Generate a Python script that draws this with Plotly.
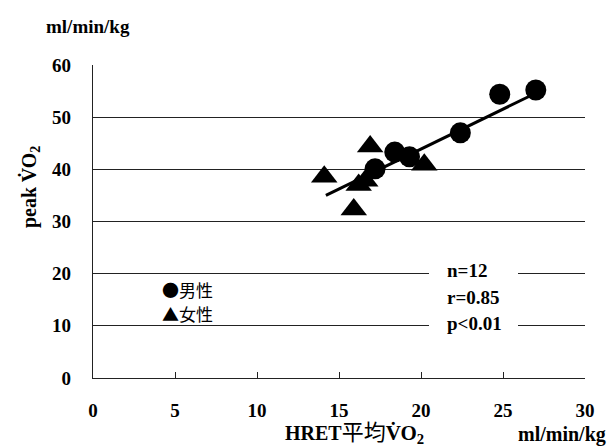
import plotly.graph_objects as go

# Data
male_x = [27.0, 24.8, 22.4, 18.4, 19.3, 17.2]
male_y = [55.2, 54.4, 47.0, 43.3, 42.4, 40.1]
female_x = [16.9, 14.1, 20.2, 16.2, 16.6, 15.9]
female_y = [44.4, 38.6, 40.9, 37.0, 37.8, 32.3]
fit_x = [14.2, 26.8]
fit_y = [35.0, 54.3]
x_ticks = [0, 5, 10, 15, 20, 25, 30]
y_ticks = [0, 10, 20, 30, 40, 50, 60]
stats_text = ["n=12", "r=0.85", "p<0.01"]
legend_labels = ["●男性", "▲女性"]

SERIF = "Liberation Serif, Times New Roman, Noto Sans CJK JP"
CJK = "Noto Sans CJK JP, Liberation Serif"

fig = go.Figure()
fig.add_trace(go.Scatter(x=fit_x, y=fit_y, mode="lines",
                         line=dict(color="black", width=3), showlegend=False,
                         hoverinfo="skip"))
fig.add_trace(go.Scatter(x=female_x, y=female_y, mode="markers",
                         marker=dict(symbol="triangle-up", size=23, color="black",
                                     line=dict(width=0)), showlegend=False))
fig.add_trace(go.Scatter(x=male_x, y=male_y, mode="markers",
                         marker=dict(symbol="circle", size=21, color="black",
                                     line=dict(width=0)), showlegend=False))

fig.update_layout(
    width=610, height=446,
    margin=dict(l=93, r=25, t=65, b=68),
    paper_bgcolor="white", plot_bgcolor="white",
    showlegend=False,
    xaxis=dict(range=[0, 30], tickvals=x_ticks, ticks="inside", ticklen=6,
               tickcolor="#222", showline=True, linecolor="#222", linewidth=1.2,
               showgrid=False, zeroline=False, ticklabelstandoff=15,
               tickfont=dict(family=SERIF, size=19, color="black", weight="bold")),
    yaxis=dict(range=[0, 60], tickvals=y_ticks, ticks="", showline=True,
               linecolor="#222", linewidth=1.2, showgrid=True, gridcolor="#222",
               gridwidth=1.2, zeroline=False, ticklabelstandoff=17,
               tickfont=dict(family=SERIF, size=19, color="black", weight="bold")),
)

annotations = [
    dict(text="<b>ml/min/kg</b>", x=44, y=26, xanchor="left", yanchor="middle",
         showarrow=False, font=dict(family=SERIF, size=19, color="black")),
    dict(text="<b>ml/min/kg</b>", x=608, y=434, xanchor="right", yanchor="middle",
         showarrow=False, font=dict(family=SERIF, size=20, color="black")),
    dict(text=("<b>HRET</b><span style='font-size:22px'>平均</span>"
               "<b><span style='font-size:21px'>V̇O<sub>2</sub></span></b>"),
         x=354, y=433, xanchor="center", yanchor="middle", showarrow=False,
         font=dict(family=SERIF, size=20, color="black")),
    dict(text="<b>peak V̇O<sub>2</sub></b>", x=30, y=187, xanchor="center",
         yanchor="middle", textangle=-90, showarrow=False,
         font=dict(family=SERIF, size=20, color="black")),
]
for s, py in zip(legend_labels, [289, 313]):
    annotations.append(dict(text=s, x=160, y=py, xanchor="left", yanchor="middle",
                            align="left", showarrow=False,
                            font=dict(family=CJK, size=17, color="black")))
for s, py in zip(stats_text, [270, 297, 323]):
    annotations.append(dict(text="<b>%s</b>" % s, x=445, y=py, xanchor="left",
                            yanchor="middle", align="left", showarrow=False,
                            font=dict(family=SERIF, size=19, color="black")))

# convert pixel positions into paper coordinates
W, H = 610, 446
L, R, T, B = 93, 25, 65, 68
pw, ph = W - L - R, H - T - B
for a in annotations:
    px, py = a["x"], a["y"]
    a["xref"] = "paper"
    a["yref"] = "paper"
    a["x"] = (px - L) / pw
    a["y"] = 1 - (py - T) / ph
fig.update_layout(annotations=annotations)

# white box interrupting gridlines behind the statistics text
fig.add_shape(type="rect", xref="paper", yref="paper",
              x0=(429 - L) / pw, x1=(518 - L) / pw,
              y0=1 - (335 - T) / ph, y1=1 - (258 - T) / ph,
              fillcolor="white", line=dict(width=0), layer="above")

fig.write_html("out.html", config={"displayModeBar": False},
               post_script="document.body.style.margin='0';document.body.style.overflow='hidden';")
